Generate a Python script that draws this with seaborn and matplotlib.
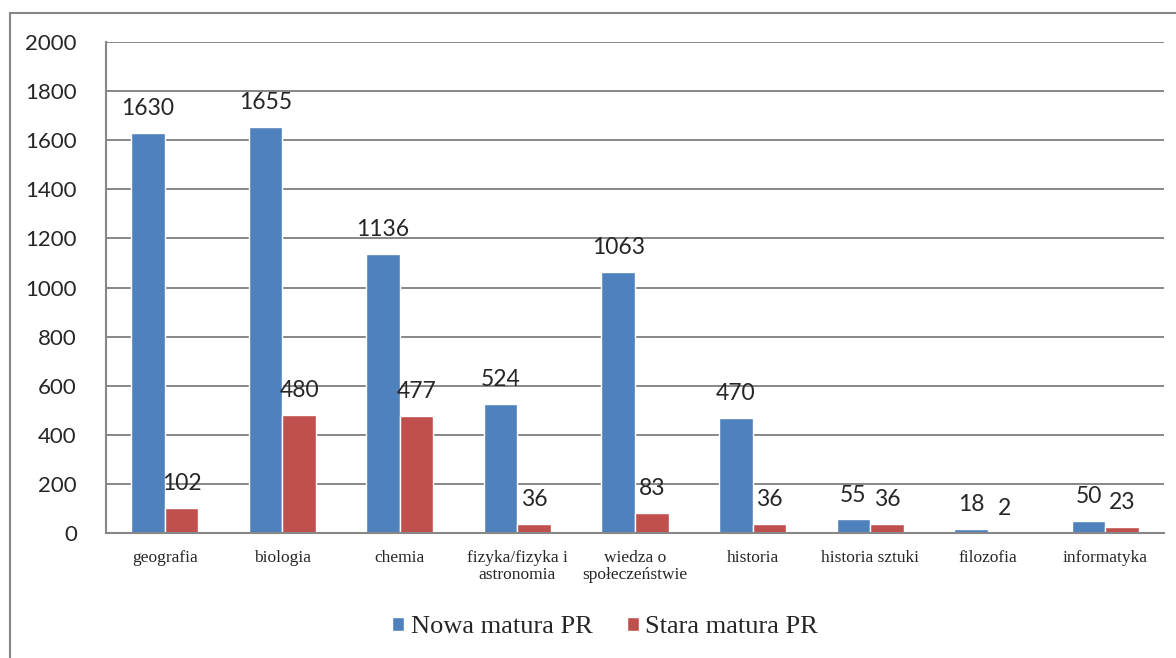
import matplotlib
matplotlib.use("Agg")
import matplotlib.pyplot as plt
import numpy as np
import pandas as pd
import seaborn as sns
from matplotlib.patches import Rectangle

subjects = ["geografia", "biologia", "chemia", "fizyka/fizyka i\nastronomia",
            "wiedza o\nspołeczeństwie", "historia", "historia sztuki",
            "filozofia", "informatyka"]
nowa = [1630, 1655, 1136, 524, 1063, 470, 55, 18, 50]
stara = [102, 480, 477, 36, 83, 36, 36, 2, 23]
series = ["Nowa matura PR", "Stara matura PR"]
colors = ["#4F81BD", "#C0504D"]
yticks = list(range(0, 2001, 200))

df = pd.DataFrame({
    "subject": subjects * 2,
    "value": nowa + stara,
    "series": [series[0]] * len(subjects) + [series[1]] * len(subjects),
})

sns.set_style("white")
grid_col = "#878787"

fig = plt.figure(figsize=(11.76, 6.58), dpi=100)
ax = fig.add_axes([106 / 1176, 1 - 533 / 658, (1164 - 106) / 1176, (533 - 42) / 658])

sns.barplot(data=df, x="subject", y="value", hue="series", palette=colors,
            width=0.57, gap=0, saturation=1, ax=ax, legend=True)

ax.set_xlim(-0.5, len(subjects) - 0.5)
ax.set_ylim(0, 2000)
ax.set_yticks(yticks)
ax.set_xlabel("")
ax.set_ylabel("")

# gridlines
for y in yticks[1:]:
    ax.axhline(y, color=grid_col, lw=1.4, zorder=0)
ax.set_axisbelow(True)

for s in ["top", "right"]:
    ax.spines[s].set_visible(False)
for s in ["left", "bottom"]:
    ax.spines[s].set_color(grid_col)
    ax.spines[s].set_linewidth(1.5)

ax.tick_params(axis="y", length=9, width=1.5, color=grid_col, pad=12,
               labelsize=16)
for t in ax.get_yticklabels():
    t.set_fontfamily("Lato")

# category labels at centre, boundary ticks as minor ticks
ax.set_xticks(np.arange(len(subjects)))
ax.set_xticklabels(subjects, fontfamily="Liberation Serif", fontsize=12.5,
                   linespacing=1.1)
ax.tick_params(axis="x", which="major", length=0, pad=12)
ax.set_xticks(np.arange(-0.5, len(subjects)), minor=True)
ax.tick_params(axis="x", which="minor", length=7, width=1.5, color=grid_col)

for cont in ax.containers:
    ax.bar_label(cont, padding=10, fontsize=16.5, fontfamily="Lato")

ax.legend(loc="center", bbox_to_anchor=(605 / 1176, 1 - 627 / 658),
          bbox_transform=fig.transFigure, ncol=2, frameon=False,
          prop={"family": "Liberation Serif", "size": 19},
          handlelength=0.45, handleheight=0.45, handletextpad=0.25,
          columnspacing=1.3, borderaxespad=0)

# outer chart border
fig.patches.append(Rectangle((10 / 1176, -0.1), 1.2, 1 - 13 / 658 + 0.1,
                             transform=fig.transFigure, fill=False,
                             edgecolor=grid_col, lw=1.5, zorder=-1))

fig.savefig("out.png", dpi=100)
